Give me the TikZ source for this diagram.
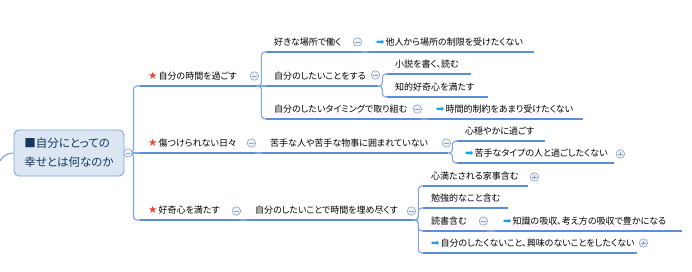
\documentclass[tikz,border=0pt]{standalone}
\usepackage{fontspec}
\setmainfont[RawFeature=+palt]{Noto Sans CJK JP}
\newfontfamily\symfont{DejaVu Sans}
\usetikzlibrary{positioning,calc}
\definecolor{LineBlue}{HTML}{5B8ED6}
\definecolor{SpineBlue}{HTML}{7EA6DE}
\definecolor{RootFill}{HTML}{DCE6F2}
\definecolor{RootEdge}{HTML}{7DA5DB}
\definecolor{RootInk}{HTML}{17375E}
\definecolor{StarRed}{HTML}{E8463A}
\definecolor{ArrowBlue}{HTML}{1E9FE6}
\definecolor{FoldGray}{HTML}{8DA4C4}
\definecolor{FoldFill}{HTML}{EEF2F8}
\newcommand{\topicstar}{{\symfont\fontsize{10.5}{10}\selectfont\textcolor{StarRed}{★}}\kern1pt}
\newcommand{\topicarrow}{{\symfont\fontsize{10}{9}\selectfont\textcolor{ArrowBlue}{➡}}\kern1pt}
\tikzset{
  uline/.style={draw=LineBlue, line width=1.6pt},
  topic/.style={anchor=south west, inner xsep=8pt, inner ysep=4pt, text height=8pt, text depth=2pt, text width=#1, align=left, font=\fontsize{9}{11}\selectfont,
    append after command={(\tikzlastnode.south west) edge[uline] (\tikzlastnode.south east)}},
  link/.style={draw=SpineBlue, line width=1.1pt, rounded corners=3.5pt},
  rootbox/.style={rounded corners=5pt, draw=RootEdge, fill=RootFill, line width=0.9pt, minimum width=110pt, minimum height=46pt, align=left, inner xsep=10pt, font=\fontsize{11.5}{19}\selectfont, text=RootInk},
  foldopen/.style={circle, draw=FoldGray, fill=FoldFill, line width=0.6pt, minimum size=8.5pt, inner sep=0pt,
    path picture={\draw[FoldGray, line width=0.8pt] ([xshift=-2.3pt]path picture bounding box.center) -- ([xshift=2.3pt]path picture bounding box.center);}},
  foldshut/.style={circle, draw=FoldGray, fill=FoldFill, line width=0.6pt, minimum size=8.5pt, inner sep=0pt,
    path picture={\draw[FoldGray, line width=0.8pt] ([xshift=-2.3pt]path picture bounding box.center) -- ([xshift=2.3pt]path picture bounding box.center) ([yshift=-2.3pt]path picture bounding box.center) -- ([yshift=2.3pt]path picture bounding box.center);}}
}
\begin{document}
\begin{tikzpicture}[x=1pt, y=-1pt]
\useasboundingbox (0,0) rectangle (692,271);

% central topic
\node[rootbox] (root) at (69,153) {■自分にとっての\\幸せとは何なのか};
\coordinate (feed) at (0,161);

% main branches
\node[topic=100pt] (t1) at (140,86) {\topicstar 自分の時間を過ごす};
\node[topic=99pt] (t2) at (140,153) {\topicstar 傷つけられない日々};
\node[topic=84pt] (t3) at (140,220) {\topicstar 好奇心を満たす};

% first branch
\node[topic=79pt] (u1) at (266,52) {好きな場所で働く};
\node[topic=96pt] (u2) at (266,86) {自分のしたいことをする};
\node[topic=139pt] (u3) at (266,119) {自分のしたいタイミングで取り組む};
\node[topic=150pt] (u1a) at (368,52) {\topicarrow 他人から場所の制限を受けたくない};
\node[topic=68pt] (u2a) at (387,74) {小説を書く、読む};
\node[topic=85pt] (u2b) at (387,97) {知的好奇心を満たす};
\node[topic=139pt] (u3a) at (428,119) {\topicarrow 時間的制約をあまり受けたくない};

% second branch
\node[topic=170pt] (v1) at (262,153) {苦手な人や苦手な物事に囲まれていない};
\node[topic=72pt] (v1a) at (457,141) {心穏やかに過ごす};
\node[topic=141pt] (v1b) at (457,163) {\topicarrow 苦手なタイプの人と過ごしたくない};

% third branch
\node[topic=150pt] (w1) at (247,220) {自分のしたいことで時間を埋め尽くす};
\node[topic=89pt] (w1a) at (423,186) {心満たされる家事含む};
\node[topic=69pt] (w1b) at (423,208) {勉強的なこと含む};
\node[topic=48pt] (w1c) at (423,231) {読書含む};
\node[topic=198pt] (w1d) at (423,253) {\topicarrow 自分のしたくないこと、興味のないことをしたくない};
\node[topic=171pt] (w1c1) at (495,231) {\topicarrow 知識の吸収、考え方の吸収で豊かになる};

% connectors
\draw[link] (feed) to[out=60,in=180] (root.west);
\coordinate (rj) at ([xshift=9pt]root.east);
\draw[link] (root.east) -- (rj) |- (t1.south west);
\draw[link] (root.east) -- (t2.south west);
\draw[link] (root.east) -- (rj) |- (t3.south west);

\coordinate (t1j) at ([xshift=5pt]t1.south east);
\draw[link] (t1.south east) -- (t1j) |- (u1.south west);
\draw[link] (t1.south east) -- (u2.south west);
\draw[link] (t1.south east) -- (t1j) |- (u3.south west);
\draw[link] (u1.south east) -- (u1a.south west);
\coordinate (u2j) at ([xshift=4pt]u2.south east);
\draw[link] (u2.south east) -- (u2j) |- (u2a.south west);
\draw[link] (u2.south east) -- (u2j) |- (u2b.south west);
\draw[link] (u3.south east) -- (u3a.south west);

\draw[link] (t2.south east) -- (v1.south west);
\coordinate (v1j) at ([xshift=4pt]v1.south east);
\draw[link] (v1.south east) -- (v1j) |- (v1a.south west);
\draw[link] (v1.south east) -- (v1j) |- (v1b.south west);

\draw[link] (t3.south east) -- (w1.south west);
\coordinate (w1j) at ([xshift=5pt]w1.south east);
\draw[link] (w1.south east) -- (w1j) |- (w1a.south west);
\draw[link] (w1.south east) -- (w1j) |- (w1b.south west);
\draw[link] (w1.south east) -- (w1j) |- (w1c.south west);
\draw[link] (w1.south east) -- (w1j) |- (w1d.south west);
\draw[link] (w1c.south east) -- (w1c1.south west);

% fold markers
\node[foldopen] (rootf) at (128,153) {};
\node[foldopen] (t1f) at ([xshift=-2pt,yshift=10pt]t1.south east) {};
\node[foldopen] (t2f) at ([xshift=-4pt,yshift=10pt]t2.south east) {};
\node[foldopen] (t3f) at ([xshift=-4pt,yshift=9pt]t3.south east) {};
\node[foldopen] (u1f) at ([xshift=-4pt,yshift=10pt]u1.south east) {};
\node[foldopen] (u2f) at ([xshift=-3pt,yshift=11pt]u2.south east) {};
\node[foldopen] (u3f) at ([xshift=-4pt,yshift=10pt]u3.south east) {};
\node[foldopen] (v1f) at ([xshift=-2pt,yshift=10pt]v1.south east) {};
\node[foldopen] (w1f) at ([xshift=-2pt,yshift=9pt]w1.south east) {};
\node[foldopen] (w1cf) at ([xshift=-4pt,yshift=10pt]w1c.south east) {};
\node[foldshut] (v1bf) at ([xshift=6pt,yshift=9pt]v1b.south east) {};
\node[foldshut] (w1af) at ([xshift=6pt,yshift=9pt]w1a.south east) {};
\node[foldshut] (w1df) at ([xshift=6pt,yshift=10pt]w1d.south east) {};
\end{tikzpicture}
\end{document}
